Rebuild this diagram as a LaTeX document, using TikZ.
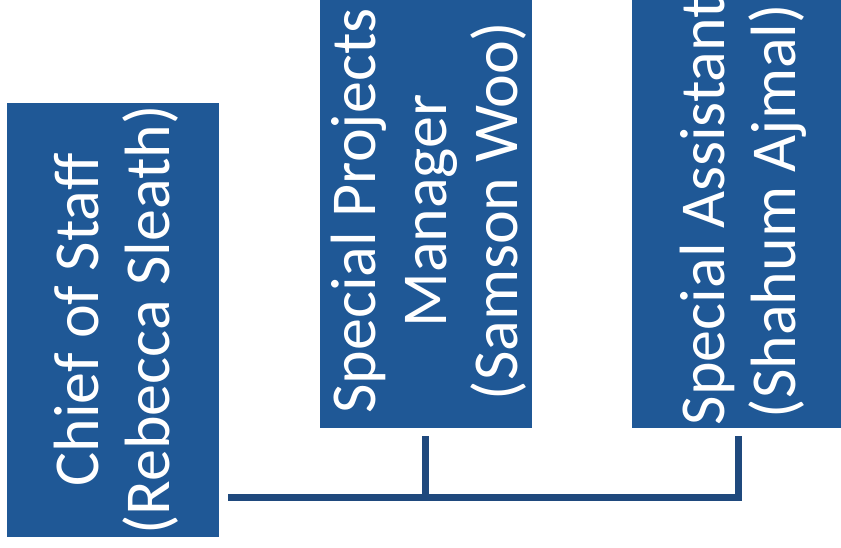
\documentclass[tikz,border=0pt]{standalone}
\usepackage{fontspec}
\setmainfont{Carlito}
\definecolor{boxblue}{RGB}{31,88,150}
\definecolor{lineblue}{RGB}{31,73,125}
\begin{document}
\begin{tikzpicture}[x=1pt,y=-1pt,
  orgbox/.style={fill=boxblue, draw=none, minimum width=212pt, minimum height=434pt, inner sep=0pt},
  orgtext/.style={text=white, rotate=90, align=center, inner sep=0pt, font=\fontsize{64}{71}\selectfont},
  conn/.style={draw=lineblue, line width=7pt}]
\useasboundingbox (0,0) rectangle (841,548);
\node[orgbox] (b1) at (113,320) {};
\node[orgbox] (b2) at (425.5,211) {};
\node[orgbox] (b3) at (738,211) {};
\node[orgtext] (t1) at ([xshift=3pt]b1.center) {Chief of Staff\\(Rebecca Sleath)};
\node[orgtext] (t2) at ([xshift=3pt]b2.center) {Special Projects\\Manager\\(Samson Woo)};
\node[orgtext] (t3) at ([xshift=5pt]b3.center) {Special Assistant\\(Shahum Ajmal)};
\coordinate (hl) at (228,497);
\draw[conn] (hl) -| ([yshift=-8pt]b3.south);
\draw[conn] ([yshift=-8pt]b2.south) -- (b2.south |- hl);
\end{tikzpicture}
\end{document}
